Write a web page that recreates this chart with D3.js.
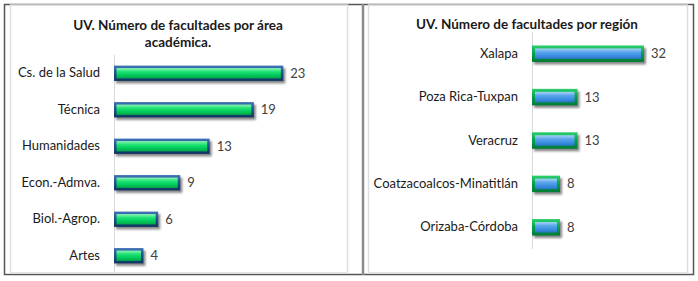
<!DOCTYPE html>
<html>
<head>
<meta charset="utf-8">
<style>
  body { margin: 0; background: #fff; }
  svg text { font-family: Lato, "Open Sans", sans-serif; }
</style>
</head>
<body>
<div id="chart"></div>
<script src="https://d3js.org/d3.v7.min.js"></script>
<script>
// data
const areaNames = ["Cs. de la Salud", "Técnica", "Humanidades", "Econ.-Admva.", "Biol.-Agrop.", "Artes"]
const areaValues = [23, 19, 13, 9, 6, 4]
const regionNames = ["Xalapa", "Poza Rica-Tuxpan", "Veracruz", "Coatzacoalcos-Minatitlán", "Orizaba-Córdoba"]
const regionValues = [32, 13, 13, 8, 8]
const areaTitle = ["UV. Número de facultades por área", "académica."]
const regionTitle = ["UV. Número de facultades por región"]

const width = 698, height = 281

const svg = d3.select("#chart").append("svg")
    .attr("width", width)
    .attr("height", height)

const defs = svg.append("defs")

function grad(id, stops) {
    const g = defs.append("linearGradient").attr("id", id)
        .attr("x1", 0).attr("y1", 0).attr("x2", 0).attr("y2", 1)
    stops.forEach(s => g.append("stop").attr("offset", s[0]).attr("stop-color", s[1]))
}
grad("greenFill", [[0, "#8ff5b4"], [0.35, "#1ee374"], [0.7, "#00c85a"], [1, "#00a548"]])
grad("blueEdge", [[0, "#3f73b5"], [0.5, "#1d4f8f"], [1, "#10345f"]])
grad("blueFill", [[0, "#a9d3f7"], [0.35, "#5aa6ec"], [0.7, "#3a8ee0"], [1, "#2a74c4"]])
grad("greenEdge", [[0, "#2fcf6e"], [0.5, "#00a24a"], [1, "#007a35"]])

const blur = defs.append("filter").attr("id", "shadow")
    .attr("x", "-20%").attr("y", "-50%").attr("width", "140%").attr("height", "200%")
blur.append("feGaussianBlur").attr("stdDeviation", 1.2)

// frames
svg.append("rect").attr("x", 4.5).attr("y", 4.5).attr("width", 689).attr("height", 270)
    .attr("fill", "none").attr("stroke", "#555").attr("stroke-width", 1.5)
svg.append("rect").attr("x", 10.5).attr("y", 5).attr("width", 337).attr("height", 268)
    .attr("fill", "none").attr("stroke", "#dedede").attr("stroke-width", 1.5)
svg.append("rect").attr("x", 368.5).attr("y", 5).attr("width", 319).attr("height", 268)
    .attr("fill", "none").attr("stroke", "#dedede").attr("stroke-width", 1.5)
svg.append("line").attr("x1", 363).attr("x2", 363).attr("y1", 4).attr("y2", 275)
    .attr("stroke", "#8a8a8a").attr("stroke-width", 2.5)

function drawChart(o) {
    const x = d3.scaleLinear().domain([0, o.max]).range(o.xRange)
    const y = d3.scaleBand().domain(o.names).range(o.yRange)
        .paddingInner(o.pad).paddingOuter(o.pad / 2)
    const g = svg.append("g")

    // title
    const t = g.append("text")
        .attr("x", o.titleX).attr("y", o.titleY)
        .attr("text-anchor", "middle")
        .attr("font-size", 13.5).attr("font-weight", "bold").attr("fill", "#1a1a1a")
    o.title.forEach((line, i) => {
        t.append("tspan").attr("x", o.titleX).attr("dy", i ? 17 : 0).text(line)
    })

    // category axis
    const ax = g.append("g")
        .attr("transform", `translate(${x(0)},0)`)
        .call(d3.axisLeft(y).tickSize(0).tickPadding(14))
    ax.select(".domain").remove()
    ax.selectAll("text").attr("font-size", 13).attr("fill", "#1a1a1a")
        .style("font-family", "Lato, 'Open Sans', sans-serif")

    g.append("line")
        .attr("x1", x(0) + 0.5).attr("x2", x(0) + 0.5)
        .attr("y1", o.yRange[0]).attr("y2", o.yRange[1])
        .attr("stroke", "#d9d9d9")

    const data = o.names.map((n, i) => ({ name: n, value: o.values[i] }))
    const bars = g.selectAll(".bar").data(data).join("g").attr("class", "bar")

    bars.append("rect")
        .attr("x", x(0) + 2).attr("y", d => y(d.name) + 2.5)
        .attr("width", d => x(d.value) - x(0)).attr("height", y.bandwidth())
        .attr("fill", "#555").attr("opacity", 0.7).attr("filter", "url(#shadow)")
    bars.append("rect")
        .attr("x", x(0)).attr("y", d => y(d.name))
        .attr("width", d => x(d.value) - x(0)).attr("height", y.bandwidth())
        .attr("fill", o.edge)
    bars.append("rect")
        .attr("x", x(0) + o.inset).attr("y", d => y(d.name) + o.inset)
        .attr("width", d => x(d.value) - x(0) - 2 * o.inset)
        .attr("height", y.bandwidth() - 2 * o.inset)
        .attr("fill", o.fill)

    bars.append("text")
        .attr("x", d => x(d.value) + 7)
        .attr("y", d => y(d.name) + y.bandwidth() / 2)
        .attr("dy", "0.35em")
        .attr("font-size", 13).attr("fill", "#404040")
        .text(d => d.value)
}

drawChart({
    names: areaNames, values: areaValues, title: areaTitle,
    max: 25, xRange: [114, 298], yRange: [55, 274], pad: 0.58,
    titleX: 178, titleY: 30,
    edge: "url(#blueEdge)", fill: "url(#greenFill)", inset: 2.5
})

drawChart({
    names: regionNames, values: regionValues, title: regionTitle,
    max: 35, xRange: [532, 654.5], yRange: [32, 249], pad: 0.62,
    titleX: 527, titleY: 29,
    edge: "url(#greenEdge)", fill: "url(#blueFill)", inset: 3
})
</script>
</body>
</html>
